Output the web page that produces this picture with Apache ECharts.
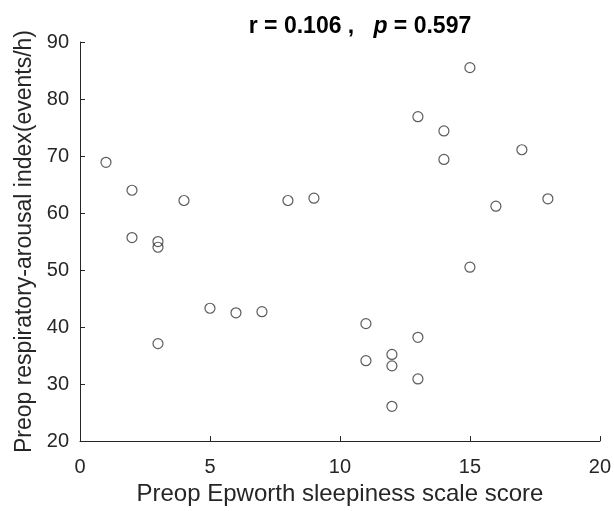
<!DOCTYPE html>
<html><head><meta charset="utf-8">
<script src="https://cdn.jsdelivr.net/npm/echarts@6/dist/echarts.min.js"></script>
<style>html,body{margin:0;padding:0;background:#fff}#c{width:614px;height:511px}</style>
</head><body><div id="c"></div>
<script>
const essScores = [1, 2, 2, 3, 3, 3, 4, 5, 6, 7, 8, 9, 11, 11, 12, 12, 12, 13, 13, 13, 14, 14, 15, 15, 16, 17, 18];
const raiValues = [68.9, 64.0, 55.7, 55.0, 54.0, 37.1, 62.2, 43.3, 42.5, 42.7, 62.2, 62.6, 40.6, 34.1, 35.2, 33.2, 26.1, 76.9, 38.2, 30.9, 74.4, 69.4, 85.5, 50.5, 61.2, 71.1, 62.5];
const xTicks = [0, 5, 10, 15, 20];
const yTicks = [20, 30, 40, 50, 60, 70, 80, 90];
const titleR = '0.106';
const titleP = '0.597';

const chart = echarts.init(document.getElementById('c'));
const font = 'Liberation Sans, Arial, sans-serif';
chart.setOption({
  animation: false,
  title: {
    text: '{b|r = ' + titleR + ' ,   }{i|p}{b| = ' + titleP + '}',
    left: 355, top: 10, textAlign: 'center',
    textStyle: {
      rich: {
        b: {fontFamily: font, fontSize: 23, fontWeight: 'bold', color: '#000'},
        i: {fontFamily: font, fontSize: 23, fontWeight: 'bold', fontStyle: 'italic', color: '#000'}
      }
    }
  },
  grid: {left: 80, right: 14, top: 42, bottom: 67},
  xAxis: {
    type: 'value', min: xTicks[0], max: xTicks[xTicks.length-1], interval: 5,
    name: 'Preop Epworth sleepiness scale score', nameLocation: 'middle', nameGap: 38,
    nameTextStyle: {fontFamily: font, fontSize: 24, color: '#262626'},
    axisLine: {show: true, lineStyle: {color: '#262626', width: 1}},
    axisTick: {show: true, inside: true, length: 5, lineStyle: {color: '#262626'}},
    axisLabel: {fontFamily: font, fontSize: 20, color: '#262626', margin: 16},
    splitLine: {show: false}
  },
  yAxis: {
    type: 'value', min: yTicks[0], max: yTicks[yTicks.length-1], interval: 10,
    name: 'Preop respiratory-arousal index(events/h)', nameLocation: 'middle', nameGap: 38,
    nameTextStyle: {fontFamily: font, fontSize: 23, color: '#262626'},
    axisLine: {show: true, lineStyle: {color: '#262626', width: 1}},
    axisTick: {show: true, inside: true, length: 5, lineStyle: {color: '#262626'}},
    axisLabel: {fontFamily: font, fontSize: 20, color: '#262626', margin: 11},
    splitLine: {show: false}
  },
  series: [{
    type: 'scatter',
    data: essScores.map((x, i) => [x, raiValues[i]]),
    symbol: 'circle', symbolSize: 10,
    itemStyle: {color: 'rgba(255,255,255,0)', borderColor: '#333', borderWidth: 1.2}
  }]
});
</script></body></html>
